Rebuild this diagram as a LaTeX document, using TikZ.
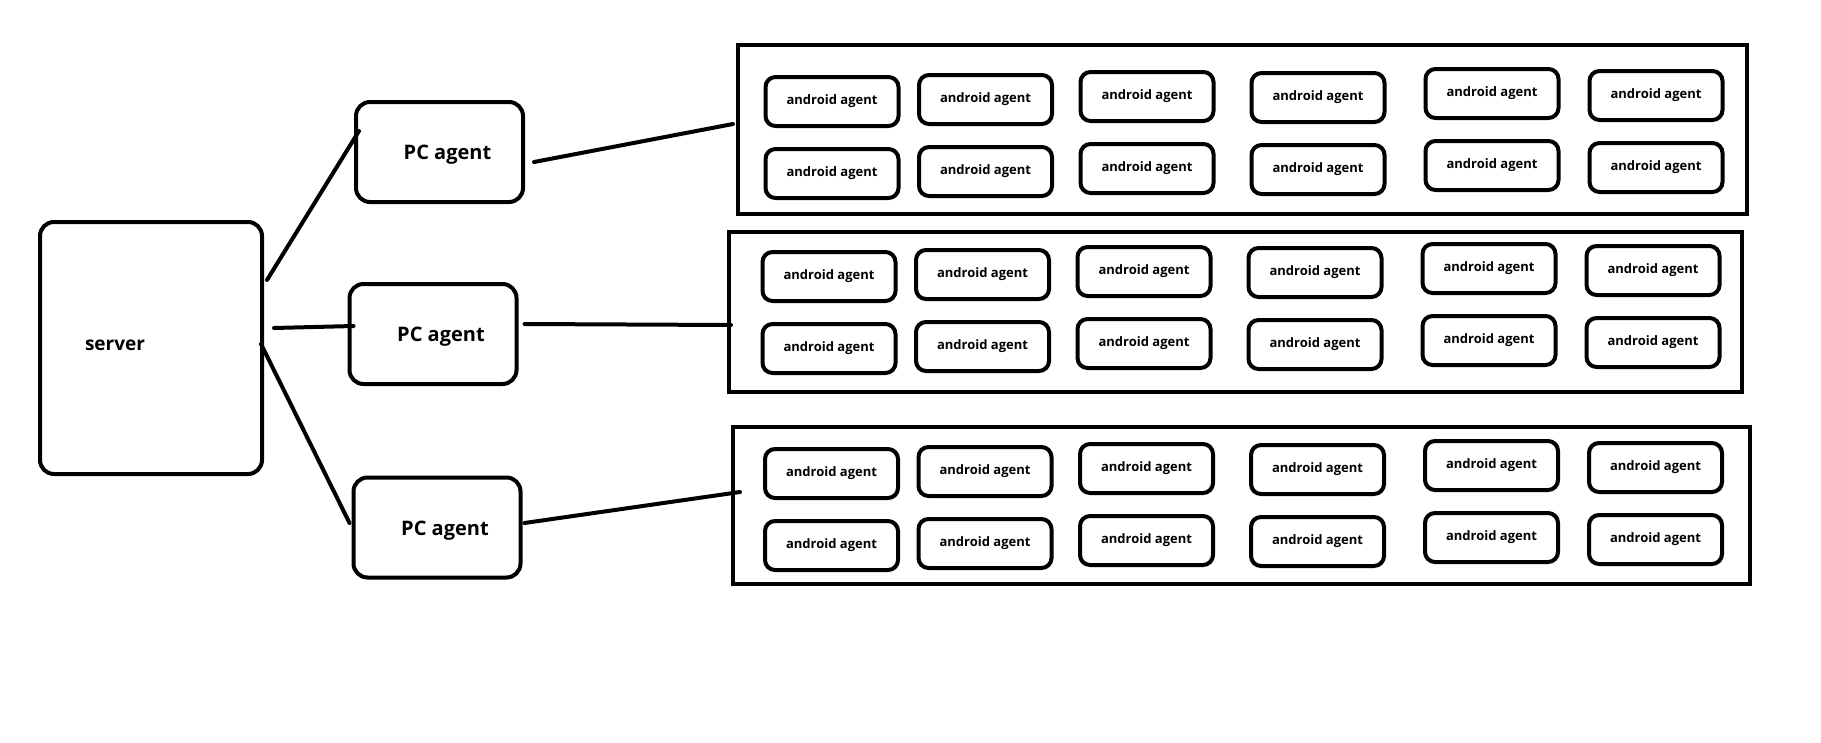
\documentclass[tikz,border=0pt]{standalone}
\usepackage{fontspec}
\setmainfont{Open Sans}
\begin{document}
\begin{tikzpicture}[x=1pt, y=-1pt,
                box/.style = {draw, line width=4pt, rounded corners=14pt},
                pcbox/.style = {box, minimum width=167pt, minimum height=100pt,
                    label={[font=\bfseries\fontsize{20}{23}\selectfont, xshift=8pt, yshift=-3pt]center:PC agent}},
                agent/.style = {box, rounded corners=10pt, minimum width=133pt, minimum height=49pt,
                    font=\bfseries\fontsize{13}{15}\selectfont},
                group/.style = {draw, line width=4pt},
                link/.style = {line width=4pt, line cap=round}
            ]
            \useasboundingbox (0,0) rectangle (1821,742);
            \node[box, minimum width=222pt, minimum height=252pt,
                label={[font=\bfseries\fontsize{19}{22}\selectfont, xshift=-36pt, yshift=3pt]center:server}]
                (server) at (151,348) {};
            \node[pcbox] (pc1) at (439.5,152) {};
            \node[pcbox] (pc2) at (433,334) {};
            \node[pcbox] (pc3) at (437,527.5) {};
            \foreach \g/\gx/\gy/\gw/\gh/\ox/\oy in {1/1242.5/129.5/1009/169/832/101.5,
                                                 2/1235.5/312/1013/160/829/276.5,
                                                 3/1241.5/505.5/1017/157/831.5/473.5} {
                \node[group, minimum width=\gw pt, minimum height=\gh pt] (grp\g) at (\gx,\gy) {};
                \foreach \c/\dx/\dy in {1/0/0, 2/153.5/-2, 3/315/-5, 4/486/-4, 5/660/-8, 6/824/-6}
                    \foreach \r in {0,1}
                        \node[agent] (a\g-\r-\c) at (\ox+\dx, \oy+\dy+72*\r) {android agent};
            }
            \draw[link] ([shift={(3pt,68pt)}]server.east) -- ([shift={(5pt,21pt)}]pc1.west);
            \draw[link] ([shift={(10pt,20pt)}]server.east) -- ([shift={(6pt,8pt)}]pc2.west);
            \draw[link] ([shift={(-3pt,4pt)}]server.east) -- ([shift={(-2pt,4.5pt)}]pc3.west);
            \draw[link] ([shift={(9pt,-10pt)}]pc1.east) -- ([shift={(-3pt,5.5pt)}]grp1.west);
            \draw[link] ([shift={(6pt,10pt)}]pc2.east) -- ([shift={(4pt,-13pt)}]grp2.west);
            \draw[link] ([shift={(2pt,4.5pt)}]pc3.east) -- ([shift={(9pt,13.5pt)}]grp3.west);
        \end{tikzpicture}
\end{document}
